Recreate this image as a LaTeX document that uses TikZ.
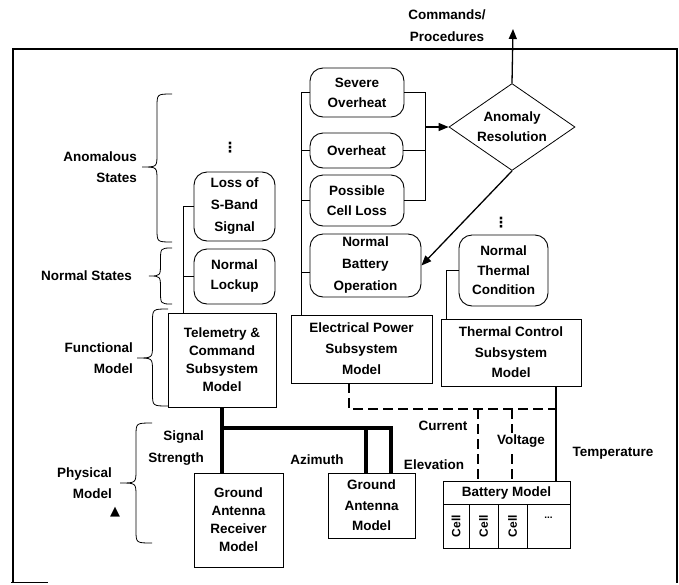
\documentclass[tikz,border=0pt]{standalone}
\usepackage{fontspec}
\setmainfont{Liberation Sans}
\newfontfamily\symfont{DejaVu Sans}
\usetikzlibrary{shapes.geometric,arrows.meta,calc}
\newcommand\mybrace[5]{%
  \draw[brc] (#1,#2) .. controls ({(#1+#4)/2},#2) .. ({(#1+#4)/2},{#2+13})
    -- ({(#1+#4)/2},{#5-13}) .. controls ({(#1+#4)/2},#5) .. (#4,#5)
    .. controls ({(#1+#4)/2},#5) .. ({(#1+#4)/2},{#5+13})
    -- ({(#1+#4)/2},{#3-13}) .. controls ({(#1+#4)/2},#3) .. (#1,#3);}
\begin{document}
\begin{tikzpicture}[x=1pt,y=-1pt,
  font=\fontsize{13.5}{20}\selectfont\bfseries,
  every node/.style={inner sep=0pt},
  bs/.style={font=\fontsize{13.5}{#1}\selectfont\bfseries},
  state/.style={draw, rounded corners=13pt, align=center, line width=0.9pt},
  model/.style={draw, align=center, line width=0.8pt},
  conn/.style={line width=0.8pt},
  thk/.style={line width=3.5pt},
  dsh/.style={line width=1.2pt, dash pattern=on 10pt off 5pt},
  arr/.style={line width=1.3pt, -{Triangle[length=10pt,width=8pt]}},
  brc/.style={line width=0.8pt},
  vd/.style={font=\symfont\bfseries\fontsize{14}{14}\selectfont},
  lbl/.style={align=right}]
\useasboundingbox (0,0) rectangle (679,584);
% frame
\draw[line width=1.2pt] (13,582) -- (13,49) -- (677,49) -- (677,583);
\draw[line width=1pt] (11,582.5) -- (48,582.5);

% EPS states
\node[state, bs=20, minimum width=94pt, minimum height=49pt] (sev) at (357,92.5) {Severe\\Overheat};
\node[state, minimum width=93pt, minimum height=35pt] (ovh) at (356.5,150.5) {Overheat};
\node[state, bs=20, minimum width=94pt, minimum height=51pt] (pcl) at (357,200.5) {Possible\\Cell Loss};
\node[state, bs=22, minimum width=111pt, minimum height=63pt] (nbo) at (365.5,265.5) {Normal\\Battery\\Operation};
% T&C states
\node[vd] (dots1) at (230,148) {⋮};
\node[state, bs=22, minimum width=81pt, minimum height=69pt] (loss) at (234.5,206.5) {Loss of\\S-Band\\Signal};
\node[state, bs=20, minimum width=81pt, minimum height=55pt] (nlock) at (234.5,276.5) {Normal\\Lockup};
% thermal state
\node[vd] (dots2) at (501,223) {⋮};
\node[state, bs=19.5, minimum width=89pt, minimum height=71pt] (ntc) at (503.5,270.5) {Normal\\Thermal\\Condition};

% functional models
\node[model, bs=18, minimum width=108pt, minimum height=94pt] (tc) at (222,360) {Telemetry \&\\Command\\Subsystem\\Model};
\node[model, bs=21, minimum width=141pt, minimum height=68pt] (eps) at (361.5,349) {Electrical Power\\Subsystem\\Model};
\node[model, bs=20.5, minimum width=140pt, minimum height=67pt] (tcs) at (511,352.5) {Thermal Control\\Subsystem\\Model};

% physical models
\node[model, bs=18, minimum width=89pt, minimum height=94pt] (garm) at (238.5,520) {Ground\\Antenna\\Receiver\\Model};
\node[model, bs=20.5, minimum width=87pt, minimum height=65pt] (gam) at (371.5,505.5) {Ground\\Antenna\\Model};
\node[model, minimum width=127pt, minimum height=23pt] (bat) at (506.5,492.5) {Battery Model};
\node[model, rotate=90, font=\fontsize{12}{13}\selectfont\bfseries, minimum width=44pt, minimum height=26pt] (c1) at (456,526) {Cell};
\node[model, rotate=90, font=\fontsize{12}{13}\selectfont\bfseries, minimum width=44pt, minimum height=29pt] (c2) at (483.5,526) {Cell};
\node[model, rotate=90, font=\fontsize{12}{13}\selectfont\bfseries, minimum width=44pt, minimum height=29pt] (c3) at (512.5,526) {Cell};
\node[model, minimum width=43pt, minimum height=44pt] (c4) at (548.5,526) {};
\node[font=\fontsize{10}{12}\selectfont\bfseries] (c4dots) at (548.5,518) {...};

% anomaly resolution
\node[diamond, draw, aspect=1.45, minimum width=126pt, minimum height=87pt, align=center, line width=0.8pt] (diam) at (512,127) {Anomaly\\Resolution};
\node[align=center, bs=22] (cmd) at (447,26) {Commands/\\Procedures};
\coordinate (cmdtip) at (513,29);
\draw[arr] (diam.north) -- (cmdtip);

% bracket into diamond
\coordinate (bx) at (425,0);
\draw[conn] (sev.east) -- (bx |- sev.east) -- (bx |- pcl.east) -- (pcl.east);
\draw[conn] (ovh.east) -- (bx |- ovh.east);
\draw[arr] (bx |- diam.west) -- (diam.west);
\draw[arr] (diam.south) -- (nbo.east);

% EPS tree
\coordinate (ex) at (301,0);
\coordinate (nbostub) at ([yshift=-7pt]nbo.west);
\draw[conn] (ex |- sev.west) -- (ex |- eps.north);
\draw[conn] (ex |- sev.west) -- (sev.west);
\draw[conn] (ex |- ovh.west) -- (ovh.west);
\draw[conn] (ex |- pcl.west) -- (pcl.west);
\draw[conn] (ex |- nbostub) -- (nbostub);
% T&C tree
\coordinate (tx) at (183,0);
\draw[conn] (tx |- loss.west) -- (tx |- tc.north);
\draw[conn] (tx |- loss.west) -- (loss.west);
\draw[conn] (tx |- nlock.west) -- (nlock.west);
% thermal tree
\coordinate (thx) at (446,0);
\draw[conn] (thx |- ntc.west) -- (thx |- tcs.north);
\draw[conn] (thx |- ntc.west) -- (ntc.west);

% thick physical links
\coordinate (hj) at (0,428);
\coordinate (gamr) at ([xshift=19.5pt]gam.north);
\coordinate (gaml) at ([xshift=-5.5pt]gam.north);
\draw[thk] (tc.south) -- (tc.south |- garm.north);
\draw[thk] (tc.south |- hj) -| (gamr);
\draw[thk] (gaml |- hj) -- (gaml);

% dashed and solid battery links
\coordinate (dy) at (0,409);
\coordinate (tmp) at (556,0);
\coordinate (v1) at (478,0);
\coordinate (v2) at (512,0);
\coordinate (epsd) at ([xshift=-12.5pt]eps.south);
\draw[conn, line width=1.2pt] (tmp |- tcs.south) -- (tmp |- bat.north);
\draw[dsh] (epsd) |- (tmp |- dy);
\draw[dsh] (v1 |- dy) -- (v1 |- bat.north);
\draw[dsh] (v2 |- dy) -- (v2 |- bat.north);

% link labels
\node (cur) at (443,426) {Current};
\node[fill=white, inner sep=2pt] (volt) at (521,441) {Voltage};
\node (elev) at (434,465) {Elevation};
\node (temp) at (613,453) {Temperature};
\node (azi) at (317,460) {Azimuth};
\node[lbl, bs=22, anchor=east] (sig) at (204,448) {Signal\\Strength};

% left level labels and braces
\node[lbl, bs=21, anchor=east] (anom) at (137,167.5) {Anomalous\\States};
\node[lbl, anchor=east] (norm) at (132,276) {Normal States};
\node[lbl, bs=21, anchor=east] (func) at (133,358) {Functional\\Model};
\node[lbl, bs=21, anchor=east] (phys) at (112,483.5) {Physical\\Model};
\node[font=\symfont\fontsize{13}{13}\selectfont] (tri) at (115,512) {▲};
\mybrace{172}{94}{242}{142}{167}
\mybrace{172}{248}{304}{149}{276}
\mybrace{168}{309}{406}{137}{358}
\mybrace{152}{423}{543}{120}{483}
\end{tikzpicture}
\end{document}
